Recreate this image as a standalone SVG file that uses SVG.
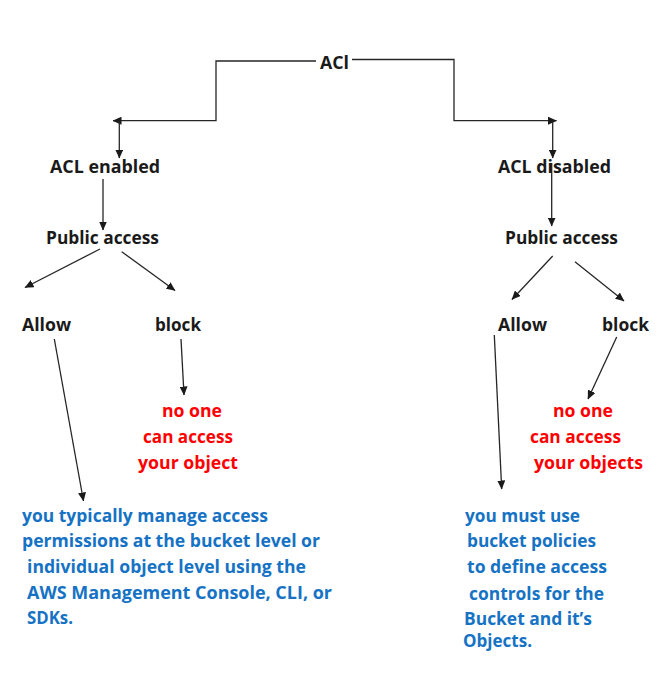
<svg xmlns="http://www.w3.org/2000/svg" width="663" height="694" viewBox="0 0 663 694">
<defs>
<style>
text{font-family:"Open Sans","Liberation Sans",sans-serif;font-weight:700;font-size:17px}
.k{fill:#1a1a1a}
.r{fill:#ff0000}
.b{fill:#1572c4}
.c line,.c polyline{stroke:#262626;stroke-width:1.3;fill:none}
.a{marker-end:url(#ah)}
</style>
<marker id="ah" markerUnits="userSpaceOnUse" markerWidth="9" markerHeight="8" refX="8.5" refY="4" orient="auto" viewBox="0 0 9 8">
<path d="M0,0 L9,4 L0,8 z" fill="#1a1a1a"/>
</marker>
</defs>
<rect width="663" height="694" fill="#ffffff"/>
<g class="c" id="connectors">
<polyline class="a" points="316,61 216,61 216,120.7 113,120.7"/>
<polyline class="a" points="352,59.5 454,59.5 454,120.7 556.5,120.7"/>
<line class="a" x1="119.3" y1="121" x2="119.3" y2="158"/>
<line class="a" x1="552.7" y1="121" x2="552.7" y2="158"/>
<line class="a" x1="103" y1="179" x2="103" y2="230"/>
<line class="a" x1="551.7" y1="163" x2="551.7" y2="226"/>
<line class="a" x1="100" y1="249" x2="25" y2="287.5"/>
<line class="a" x1="121.7" y1="251.7" x2="175" y2="290.5"/>
<line class="a" x1="552.7" y1="256" x2="512" y2="299.5"/>
<line class="a" x1="575" y1="261.7" x2="624" y2="301"/>
<line class="a" x1="54.3" y1="339" x2="83.5" y2="501"/>
<line class="a" x1="181" y1="339" x2="184" y2="395"/>
<line class="a" x1="494.3" y1="335" x2="501.7" y2="489"/>
<line class="a" x1="616.7" y1="337" x2="588" y2="399"/>
</g>
<g id="acl"><text class="k" x="320" y="68.5" textLength="29" lengthAdjust="spacingAndGlyphs">ACl</text></g>
<g id="acl-enabled"><text class="k" x="50" y="172.5" textLength="110" lengthAdjust="spacingAndGlyphs">ACL enabled</text></g>
<g id="acl-disabled"><text class="k" x="498" y="172.5" textLength="113" lengthAdjust="spacingAndGlyphs">ACL disabled</text></g>
<g id="public-left"><text class="k" x="46" y="243.5" textLength="113" lengthAdjust="spacingAndGlyphs">Public access</text></g>
<g id="public-right"><text class="k" x="505" y="243.5" textLength="113" lengthAdjust="spacingAndGlyphs">Public access</text></g>
<g id="allow-left"><text class="k" x="22" y="330.5" textLength="49" lengthAdjust="spacingAndGlyphs">Allow</text></g>
<g id="block-left"><text class="k" x="155" y="330.5" textLength="46" lengthAdjust="spacingAndGlyphs">block</text></g>
<g id="allow-right"><text class="k" x="498" y="330.5" textLength="49" lengthAdjust="spacingAndGlyphs">Allow</text></g>
<g id="block-right"><text class="k" x="602" y="330.5" textLength="47" lengthAdjust="spacingAndGlyphs">block</text></g>
<g id="noaccess-left">
<text class="r" x="162" y="417" textLength="60" lengthAdjust="spacingAndGlyphs">no one</text>
<text class="r" x="143" y="443" textLength="90" lengthAdjust="spacingAndGlyphs">can access</text>
<text class="r" x="138" y="468.5" textLength="100" lengthAdjust="spacingAndGlyphs">your object</text>
</g>
<g id="noaccess-right">
<text class="r" x="553" y="417" textLength="60" lengthAdjust="spacingAndGlyphs">no one</text>
<text class="r" x="530" y="442.5" textLength="91" lengthAdjust="spacingAndGlyphs">can access</text>
<text class="r" x="534" y="468.5" textLength="109" lengthAdjust="spacingAndGlyphs">your objects</text>
</g>
<g id="allow-left-desc">
<text class="b" x="22" y="521.5" textLength="246" lengthAdjust="spacingAndGlyphs">you typically manage access</text>
<text class="b" x="22" y="547" textLength="298" lengthAdjust="spacingAndGlyphs">permissions at the bucket level or</text>
<text class="b" x="27" y="573" textLength="279" lengthAdjust="spacingAndGlyphs">individual object level using the</text>
<text class="b" x="27" y="598.5" textLength="305" lengthAdjust="spacingAndGlyphs">AWS Management Console, CLI, or</text>
<text class="b" x="27" y="624" textLength="46" lengthAdjust="spacingAndGlyphs">SDKs.</text>
</g>
<g id="allow-right-desc">
<text class="b" x="465" y="521.5" textLength="115" lengthAdjust="spacingAndGlyphs">you must use</text>
<text class="b" x="467" y="547" textLength="129" lengthAdjust="spacingAndGlyphs">bucket policies</text>
<text class="b" x="467" y="573" textLength="140" lengthAdjust="spacingAndGlyphs">to define access</text>
<text class="b" x="469" y="599.5" textLength="135" lengthAdjust="spacingAndGlyphs">controls for the</text>
<text class="b" x="464" y="625" textLength="128" lengthAdjust="spacingAndGlyphs">Bucket and it’s</text>
<text class="b" x="463" y="647" textLength="69" lengthAdjust="spacingAndGlyphs">Objects.</text>
</g>
</svg>
